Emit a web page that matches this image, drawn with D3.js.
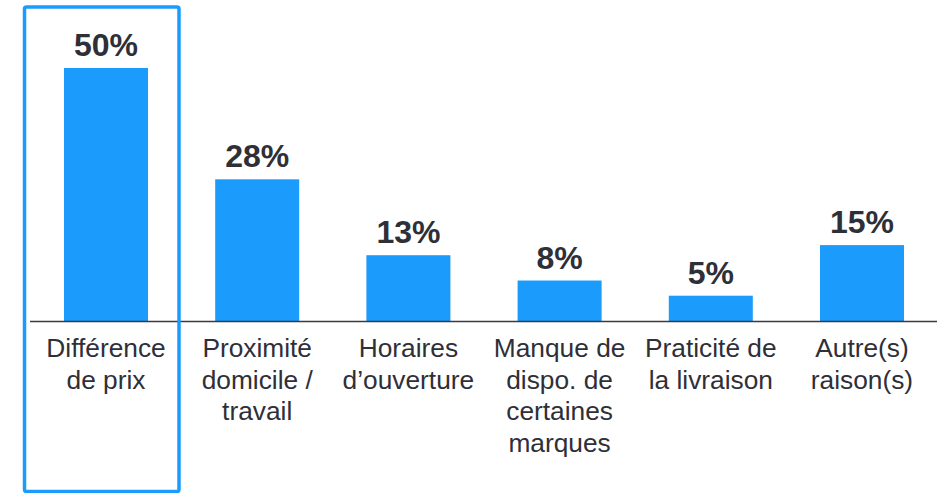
<!DOCTYPE html>
<html>
<head>
<meta charset="utf-8">
<script src="https://cdn.jsdelivr.net/npm/d3@7"></script>
<style>
  html, body { margin: 0; padding: 0; background: #fff; }
  svg { display: block; }
</style>
</head>
<body>
<svg id="chart" width="937" height="493"></svg>
<script>
const categories = [
  ["Différence", "de prix"],
  ["Proximité", "domicile /", "travail"],
  ["Horaires", "d’ouverture"],
  ["Manque de", "dispo. de", "certaines", "marques"],
  ["Praticité de", "la livraison"],
  ["Autre(s)", "raison(s)"]
];
const values = [50, 28, 13, 8, 5, 15];
const valueLabels = ["50%", "28%", "13%", "8%", "5%", "15%"];

const W = 937, H = 493;
const baseline = 321;
const svg = d3.select("#chart");

const keys = categories.map((c, i) => String(i));
const x = d3.scaleBand()
  .domain(keys)
  .range([30.4, 937.6])
  .paddingInner(0.4444)
  .paddingOuter(0.2222);

const y = d3.scaleLinear().domain([0, 50]).range([baseline, 68]);

const barColor = "#1b9bfc";
const textColor = "#2f2f38";

// bars
svg.append("g").selectAll("rect")
  .data(values)
  .join("rect")
  .attr("x", (d, i) => x(keys[i]))
  .attr("y", d => y(d))
  .attr("width", x.bandwidth())
  .attr("height", d => baseline - y(d))
  .attr("fill", barColor);

// value labels
svg.append("g").selectAll("text")
  .data(values)
  .join("text")
  .attr("x", (d, i) => x(keys[i]) + x.bandwidth() / 2)
  .attr("y", d => y(d) - 12)
  .attr("text-anchor", "middle")
  .attr("font-family", "Liberation Sans, Arial, sans-serif")
  .attr("font-weight", "bold")
  .attr("font-size", 32)
  .attr("fill", textColor)
  .text((d, i) => valueLabels[i]);

// axis line
svg.append("line")
  .attr("x1", 30).attr("x2", W)
  .attr("y1", baseline + 0.5).attr("y2", baseline + 0.5)
  .attr("stroke", "#3a3a42")
  .attr("stroke-width", 1.3);

// category labels
const lab = svg.append("g").selectAll("text")
  .data(categories)
  .join("text")
  .attr("text-anchor", "middle")
  .attr("font-family", "Liberation Sans, Arial, sans-serif")
  .attr("font-size", 26.3)
  .attr("fill", textColor);
lab.each(function(lines, i) {
  const t = d3.select(this);
  const cx = x(keys[i]) + x.bandwidth() / 2;
  lines.forEach((ln, j) => {
    t.append("tspan").attr("x", cx).attr("y", 357 + j * 31.5).text(ln);
  });
});

// highlight box around first category
svg.append("rect")
  .attr("x", 24.5).attr("y", 7)
  .attr("width", 154.5).attr("height", 484.5)
  .attr("rx", 2)
  .attr("fill", "none")
  .attr("stroke", "#1b9bfc")
  .attr("stroke-width", 3.5);
</script>
</body>
</html>
